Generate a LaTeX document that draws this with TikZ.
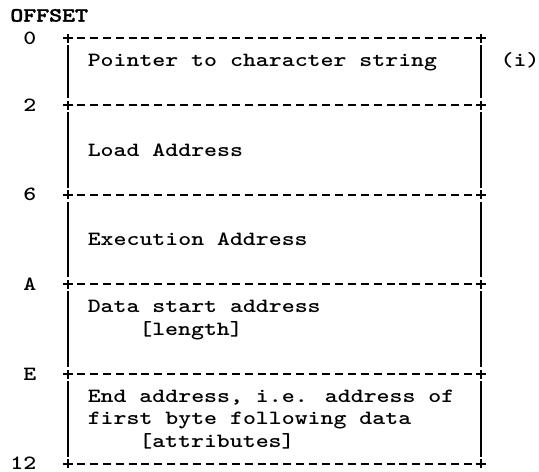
\documentclass[tikz,border=0pt]{standalone}
\usepackage{fontspec}
\newfontfamily\tw{lmmonolt10-bold.otf}[FakeStretch=1.22]
\newfontfamily\twb{lmmonolt10-bold.otf}[FakeStretch=1.22,FakeBold=1.6]
\tikzset{
  txt/.style={inner sep=0pt, anchor=base west, font=\tw\fontsize{10.1}{13}\selectfont},
  sepline/.style={line width=1pt, dash pattern=on 4pt off 2.45pt},
  bar/.style={line width=1pt}
}
\begin{document}
\begin{tikzpicture}[x=0.5pt,y=-0.5pt]
\useasboundingbox (0,0) rectangle (539,471);
% labels
\node[txt] (offset) at (9.95,21.6) {\twb OFFSET};
\node[txt] (o0) at (22.85,44) {0};
\node[txt] (o2) at (22.85,111.2) {2};
\node[txt] (o6) at (22.85,200.8) {6};
\node[txt] (oA) at (22.85,290.4) {A};
\node[txt] (oE) at (22.85,380) {E};
\node[txt] (o12) at (9.95,469.6) {12};
% field texts
\node[txt] (t1) at (87.35,66.4) {Pointer to character string};
\node[txt] (ti) at (500.15,66.4) {(i)};
\node[txt] (t2) at (87.35,156) {Load Address};
\node[txt] (t3) at (87.35,245.6) {Execution Address};
\node[txt] (t4a) at (87.35,312.8) {Data start address};
\node[txt] (t4b) at (138.95,335.2) {[length]};
\node[txt] (t5a) at (87.35,402.4) {End address, i.e. address of};
\node[txt] (t5b) at (87.35,424.8) {first byte following data};
\node[txt] (t5c) at (138.95,447.2) {[attributes]};
% separators with plus corners
\foreach \y in {38,105.2,194.8,284.4,374,463.6} {
  \draw[sepline] (76.9,\y) -- (471.9,\y);
  \draw[bar] (63,\y) -- (73,\y) (68,\y-4.5) -- (68,\y+4.5);
  \draw[bar] (475.8,\y) -- (485.8,\y) (480.8,\y-4.5) -- (480.8,\y+4.5);
}
% vertical borders
\foreach \a/\b in {38/105.2,105.2/194.8,194.8/284.4,284.4/374,374/463.6} {
  \draw[bar] (68,\a+7) -- (68,\b-7);
  \draw[bar] (480.8,\a+7) -- (480.8,\b-7);
}
\end{tikzpicture}
\end{document}
